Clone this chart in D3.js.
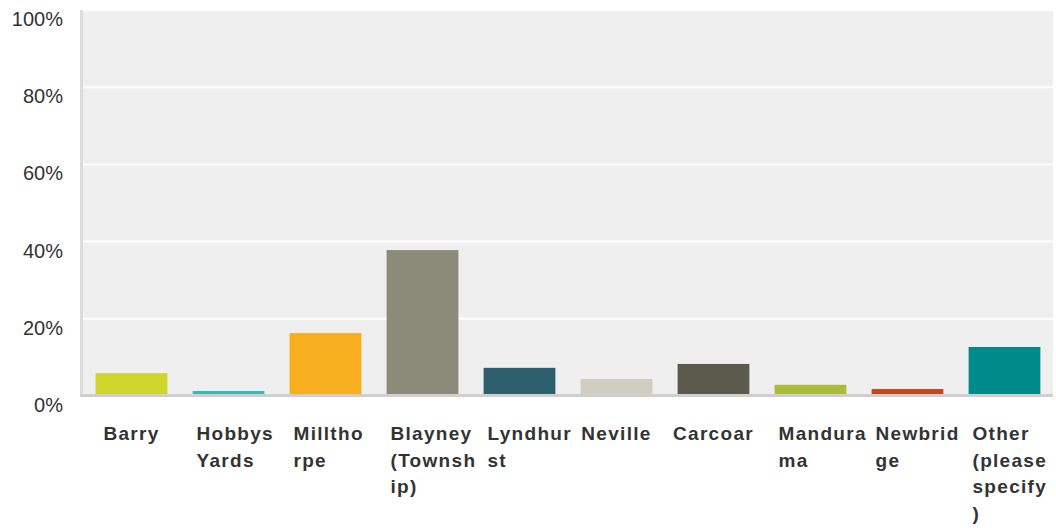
<!DOCTYPE html>
<html>
<head>
<meta charset="utf-8">
<script src="https://cdn.jsdelivr.net/npm/d3@7/dist/d3.min.js"></script>
<style>
  html, body { margin: 0; padding: 0; background: #ffffff; }
  svg { display: block; font-family: "Liberation Sans", Arial, Helvetica, sans-serif; }
</style>
</head>
<body>
<svg id="chart" width="1056" height="528"></svg>
<script>
const categories = ["Barry", "Hobbys Yards", "Millthorpe", "Blayney (Township)", "Lyndhurst",
                    "Neville", "Carcoar", "Mandurama", "Newbridge", "Other (please specify)"];
const values = [5.9, 1.3, 16.3, 37.8, 7.3, 4.4, 8.3, 2.9, 1.8, 12.7];
const barColors = ["#cfd52a", "#38babd", "#f7af1f", "#8a8b79", "#2e5f6e",
                   "#cfcec0", "#5c5a4c", "#abbd38", "#c8441b", "#008a8a"];
const yTicks = [0, 20, 40, 60, 80, 100];
const yTickLabels = ["0%", "20%", "40%", "60%", "80%", "100%"];

const svg = d3.select("#chart");
const plot = { left: 83, right: 1053, top: 10, bottom: 396 };

const x = d3.scaleBand()
  .domain(categories)
  .range([plot.left, plot.right])
  .paddingInner(0.26)
  .paddingOuter(0.13);

const y = d3.scaleLinear().domain([0, 100]).range([plot.bottom, plot.top]);

// background
svg.append("rect")
  .attr("x", plot.left).attr("y", plot.top)
  .attr("width", plot.right - plot.left).attr("height", plot.bottom - plot.top)
  .attr("fill", "#efefef");

// gridlines
svg.append("g").selectAll("line")
  .data(yTicks.filter(d => d > 0))
  .join("line")
  .attr("x1", plot.left).attr("x2", plot.right)
  .attr("y1", d => y(d)).attr("y2", d => y(d))
  .attr("stroke", "#ffffff").attr("stroke-width", 2);

// left axis line
svg.append("line")
  .attr("x1", 81.5).attr("x2", 81.5)
  .attr("y1", plot.top).attr("y2", plot.bottom + 1)
  .attr("stroke", "#dcdcdc").attr("stroke-width", 3);

// bars
svg.append("g").selectAll("rect")
  .data(categories.map((c, i) => ({ c, v: values[i], color: barColors[i] })))
  .join("rect")
  .attr("x", d => x(d.c))
  .attr("width", x.bandwidth())
  .attr("y", d => y(d.v))
  .attr("height", d => y(0) - y(d.v))
  .attr("fill", d => d.color);

// bottom axis line
svg.append("line")
  .attr("x1", 80).attr("x2", plot.right)
  .attr("y1", plot.bottom - 0.5).attr("y2", plot.bottom - 0.5)
  .attr("stroke", "#cfcfcf").attr("stroke-width", 3);

// y tick labels
svg.append("g").selectAll("text")
  .data(yTicks)
  .join("text")
  .attr("x", 63)
  .attr("y", d => y(d) + 16)
  .attr("text-anchor", "end")
  .attr("font-size", 20)
  .attr("fill", "#333333")
  .text((d, i) => yTickLabels[i]);

// x labels with character-based wrapping (max 7 chars per line)
function wrap(s, maxChars) {
  const lines = [];
  let cur = "";
  s.split(" ").forEach(w => {
    const pieces = [];
    for (let k = 0; k < w.length; k += maxChars) pieces.push(w.slice(k, k + maxChars));
    pieces.forEach(p => {
      if (cur === "") cur = p;
      else if ((cur + " " + p).length <= maxChars) cur += " " + p;
      else { lines.push(cur); cur = p; }
    });
  });
  if (cur !== "") lines.push(cur);
  return lines;
}

const labelG = svg.append("g");
categories.forEach(c => {
  const lines = wrap(c, 7);
  const cx = x(c) + x.bandwidth() / 2;
  const single = lines.length === 1;
  const t = labelG.append("text")
    .attr("font-size", 19)
    .attr("font-weight", "bold")
    .attr("letter-spacing", 1.3)
    .attr("fill", "#333333")
    .attr("text-anchor", single ? "middle" : "start");
  lines.forEach((ln, i) => {
    t.append("tspan")
      .attr("x", single ? cx : cx - 32)
      .attr("y", 440 + i * 26.5)
      .text(ln);
  });
});
</script>
</body>
</html>
